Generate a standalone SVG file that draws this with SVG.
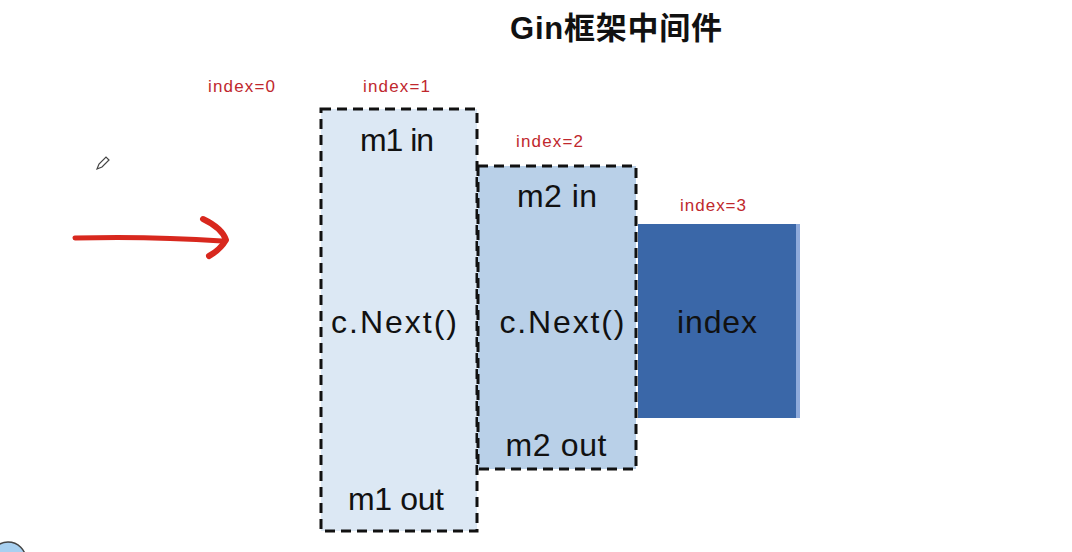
<svg xmlns="http://www.w3.org/2000/svg" width="1072" height="552" viewBox="0 0 1072 552">
<style>
.lbl{font-family:"Liberation Sans",sans-serif;font-size:17px;fill:#c0282d}
.big{font-family:"Liberation Sans",sans-serif;font-size:32px;fill:#111;text-anchor:middle}
.box{stroke:#111;stroke-width:3;stroke-dasharray:10 6}
</style>
<rect width="1072" height="552" fill="#fff"/>
<text x="616" y="39" text-anchor="middle" font-family="'Liberation Sans','Noto Sans CJK SC',sans-serif" font-size="31" font-weight="bold" fill="#111" textLength="212">Gin框架中间件</text>
<g id="labels">
<text class="lbl" x="208" y="92" textLength="67">index=0</text>
<text class="lbl" x="363" y="92" textLength="67">index=1</text>
<text class="lbl" x="516" y="147" textLength="67">index=2</text>
<text class="lbl" x="680" y="211" textLength="66">index=3</text>
</g>
<g id="m1">
<rect class="box" x="321" y="109" width="156" height="422" fill="#dce8f4"/>
<text class="big" x="397" y="151" textLength="74">m1 in</text>
<text class="big" x="394" y="333" textLength="126">c.Next()</text>
<text class="big" x="396" y="510" textLength="96">m1 out</text>
</g>
<g id="m2">
<rect class="box" x="478" y="166" width="158" height="303" fill="#b9d0e8"/>
<text class="big" x="557" y="207" textLength="80">m2 in</text>
<text class="big" x="562" y="333" textLength="125">c.Next()</text>
<text class="big" x="556" y="456" textLength="101">m2 out</text>
</g>
<g id="index">
<rect x="638" y="224" width="160" height="194" fill="#3a67a8"/>
<rect x="796" y="224" width="4" height="194" fill="#8eaadb"/>
<text class="big" x="717" y="333" textLength="80">index</text>
</g>
<g id="connectors">
<path d="M75 238 Q150 236 222 241" fill="none" stroke="#d8281e" stroke-width="5" stroke-linecap="round"/>
<path d="M203 219 Q222 228 226 240 Q220 250 209 256" fill="none" stroke="#d8281e" stroke-width="6" stroke-linecap="round" stroke-linejoin="round"/>
</g>
<g id="pencil" fill="none" stroke="#444" stroke-width="1.2">
<path d="M97 169 L99 164 L106 157 L109 160 L102 167 Z"/>
</g>
<circle cx="8" cy="560" r="18" fill="#a8d0f0" stroke="#444" stroke-width="1.5"/>
</svg>
